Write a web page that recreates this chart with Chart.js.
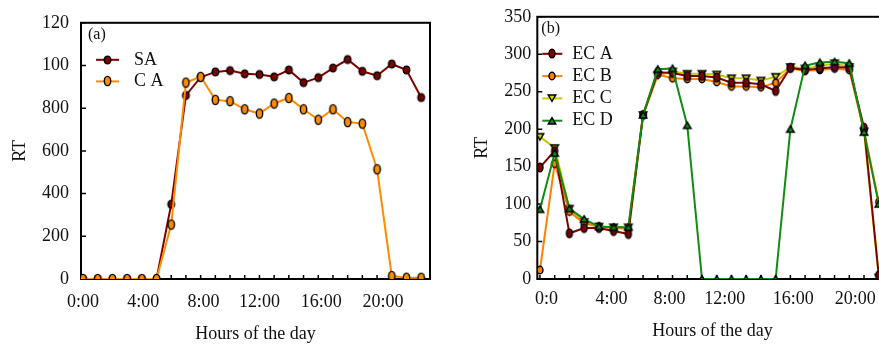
<!DOCTYPE html>
<html>
<head>
<meta charset="utf-8">
<script src="https://cdn.jsdelivr.net/npm/chart.js@4.4.1/dist/chart.umd.min.js"></script>
<style>
    html, body { margin: 0; padding: 0; background: #fff; overflow: hidden; }
    #ChartA { position: absolute; left: 0; top: 0; }
    #ChartB { position: absolute; left: 440px; top: 0; }
</style>
</head>
<body>
<canvas id="ChartA" width="440" height="347"></canvas>
<canvas id="ChartB" width="460" height="347"></canvas>
<script>
const hours = [0, 1, 2, 3, 4, 5, 6, 7, 8, 9, 10, 11, 12, 13, 14, 15, 16, 17, 18, 19, 20, 21, 22, 23];

// panel (a)
const sa_values = [0, 0, 0, 0, 0, 0, 350, 860, 945, 970, 976, 961, 958, 947, 979, 920, 943, 988, 1028, 973, 952, 1007, 979, 850];
const ca_values = [0, 0, 0, 0, 0, 0, 255, 920, 947, 839, 833, 795, 775, 822, 848, 795, 746, 795, 735, 728, 514, 14, 6, 6];
const a_tick_hours = [0, 4.1, 8.2, 12, 16.2, 20.4];
const a_tick_labels = ['0:00', '4:00', '8:00', '12:00', '16:00', '20:00'];
const a_y_labels = ['0', '200', '400', '600', '800', '100', '120'];

// panel (b)
const eca_values = [149, 171, 61, 68, 68, 64, 60, 219, 276, 275, 271, 271, 269, 262, 262, 260, 251, 282, 279, 281, 283, 282, 202, 5];
const ecb_values = [12, 154, 90, 74, 70, 68, 67, 219, 273, 268, 267, 267, 263, 257, 257, 256, 262, 281, 278, 279, 281, 279, 198, 103];
const ecc_values = [190, 175, 94, 76, 70, 69, 69, 219, 272, 277, 274, 274, 273, 268, 268, 265, 270, 283, 281, 284, 288, 283, 197, 2];
const ecd_values = [93, 168, 94, 80, 70, 69, 69, 219, 280, 281, 205, 0, 0, 0, 0, 0, 0, 200, 285, 289, 290, 288, 196, 100];
const b_tick_hours = [0.45, 4.85, 8.8, 12.55, 17.2, 21.4];
const b_tick_labels = ['0:0', '4:00', '8:00', '12:00', '16:00', '20:00'];

const SERIF = "'Liberation Serif', 'Times New Roman', serif";
Chart.defaults.font.family = SERIF;
Chart.defaults.font.size = 18;
Chart.defaults.color = "#111";

function ellipse_marker(fill, rx, ry) {
    const c = document.createElement("canvas");
    c.width = Math.ceil(rx * 2 + 4);
    c.height = Math.ceil(ry * 2 + 4);
    const g = c.getContext("2d");
    g.beginPath();
    g.ellipse(c.width / 2, c.height / 2, rx, ry, 0, 0, Math.PI * 2);
    g.fillStyle = fill;
    g.fill();
    g.lineWidth = 1.4;
    g.strokeStyle = "#000";
    g.stroke();
    return c;
}

function triangle_marker(fill, r, down) {
    const c = document.createElement("canvas");
    const s = Math.ceil(r * 2 + 4);
    c.width = s;
    c.height = s;
    const g = c.getContext("2d");
    const m = s / 2;
    const d = down ? -1 : 1;
    g.beginPath();
    g.moveTo(m - r, m + d * r * 0.8);
    g.lineTo(m + r, m + d * r * 0.8);
    g.lineTo(m, m - d * r * 0.9);
    g.closePath();
    g.fillStyle = fill;
    g.fill();
    g.lineWidth = 1.4;
    g.strokeStyle = "#000";
    g.stroke();
    return c;
}

// box round the plot plus short inside tick marks
const frame_plugin = {
    id: "frame",
    beforeDatasetsDraw(chart) {
        const { ctx, chartArea: a, scales } = chart;
        ctx.save();
        ctx.strokeStyle = "#000";
        ctx.lineWidth = 2;
        ctx.strokeRect(a.left, a.top, a.right - a.left, a.bottom - a.top);
        ctx.lineWidth = 1.5;
        ctx.beginPath();
        hours.forEach(h => {
            const x = scales.x.getPixelForValue(h);
            ctx.moveTo(x, a.bottom);
            ctx.lineTo(x, a.bottom - 4);
        });
        scales.y.ticks.forEach(t => {
            const y = scales.y.getPixelForValue(t.value);
            ctx.moveTo(a.left, y);
            ctx.lineTo(a.left + 5, y);
        });
        ctx.stroke();
        ctx.restore();
    }
};

// legend drawn inside the plot, line with marker like the original
const inside_legend = {
    id: "insideLegend",
    afterDraw(chart, args, opts) {
        const { ctx, chartArea: a } = chart;
        ctx.save();
        ctx.textBaseline = "middle";
        ctx.fillStyle = "#111";
        ctx.font = "16px " + SERIF;
        ctx.fillText(opts.panel, a.left + opts.panelX, a.top + 12);
        ctx.font = "18px " + SERIF;
        chart.data.datasets.forEach((ds, i) => {
            const y = a.top + opts.top + i * opts.gap;
            const x0 = a.left + opts.left;
            ctx.strokeStyle = ds.borderColor;
            ctx.lineWidth = 2;
            ctx.beginPath();
            ctx.moveTo(x0, y);
            ctx.lineTo(x0 + opts.line, y);
            ctx.stroke();
            const m = ds.pointStyle;
            ctx.drawImage(m, Math.round(x0 + opts.line / 2 - m.width / 2), Math.round(y - m.height / 2));
            ctx.fillText(ds.label, x0 + opts.line + opts.textGap, y);
        });
        ctx.restore();
    }
};

function graph_panel_a() {
    const ctx = document.getElementById("ChartA").getContext("2d");

    new Chart(ctx, {
        type: "line",
        data: {
            labels: hours,
            datasets: [
                {
                    label: "SA",
                    data: sa_values,
                    borderColor: "#800000",
                    backgroundColor: "#800000",
                    pointStyle: ellipse_marker("#7a0000", 3.3, 3.9),
                    order: 1
                },
                {
                    label: "C A",
                    data: ca_values,
                    borderColor: "#ff8c00",
                    backgroundColor: "#ff8c00",
                    pointStyle: ellipse_marker("#ff8c00", 3.2, 4.6),
                    order: 0
                }
            ]
        },
        options: {
            responsive: false,
            animation: false,
            events: [],
            layout: { padding: { top: 13, right: 10, left: 0, bottom: 0 } },
            elements: {
                line: { borderWidth: 2, tension: 0 },
                point: { radius: 4 }
            },
            plugins: {
                legend: { display: false },
                tooltip: { enabled: false },
                insideLegend: { panel: "(a)", panelX: 7, left: 15, top: 37, gap: 21.6, line: 23, textGap: 15 }
            },
            scales: {
                x: {
                    type: "linear",
                    min: -0.136,
                    max: 23.6,
                    afterBuildTicks: scale => { scale.ticks = a_tick_hours.map(v => ({ value: v })); },
                    afterFit: scale => { scale.height = 68; },
                    ticks: {
                        autoSkip: false,
                        maxRotation: 0,
                        padding: 12,
                        callback: (value, index) => a_tick_labels[index]
                    },
                    grid: { display: false, drawTicks: false },
                    border: { display: false },
                    title: { display: true, text: "Hours of the day", padding: { top: 0, bottom: 2 } }
                },
                y: {
                    min: 0,
                    max: 1200,
                    afterFit: scale => { scale.width = 81; },
                    ticks: {
                        stepSize: 200,
                        padding: 12,
                        callback: (value, index) => a_y_labels[index]
                    },
                    grid: { display: false, drawTicks: false },
                    border: { display: false },
                    title: { display: true, text: "RT", padding: { top: 9, bottom: 0 } }
                }
            }
        },
        plugins: [frame_plugin, inside_legend]
    });
}

function graph_panel_b() {
    const ctx = document.getElementById("ChartB").getContext("2d");

    new Chart(ctx, {
        type: "line",
        data: {
            labels: hours,
            datasets: [
                {
                    label: "EC A",
                    data: eca_values,
                    borderColor: "#800000",
                    backgroundColor: "#800000",
                    pointStyle: ellipse_marker("#7a0000", 3, 4.4),
                    order: 1
                },
                {
                    label: "EC B",
                    data: ecb_values,
                    borderColor: "#ff8000",
                    backgroundColor: "#ff8000",
                    pointStyle: ellipse_marker("#ff8000", 3, 3.8),
                    order: 2
                },
                {
                    label: "EC C",
                    data: ecc_values,
                    borderColor: "#c8c800",
                    backgroundColor: "#c8c800",
                    pointStyle: triangle_marker("#d4d400", 3.8, true),
                    order: 3
                },
                {
                    label: "EC D",
                    data: ecd_values,
                    borderColor: "#108c10",
                    backgroundColor: "#108c10",
                    pointStyle: triangle_marker("#108c10", 3.8, false),
                    order: 0
                }
            ]
        },
        options: {
            responsive: false,
            animation: false,
            events: [],
            layout: { padding: { top: 15, right: 12.4, left: 0, bottom: 0 } },
            elements: {
                line: { borderWidth: 2, tension: 0 },
                point: { radius: 4 }
            },
            plugins: {
                legend: { display: false },
                tooltip: { enabled: false },
                insideLegend: { panel: "(b)", panelX: 4, left: 5, top: 37, gap: 22.3, line: 20, textGap: 10 }
            },
            scales: {
                x: {
                    type: "linear",
                    min: -0.18,
                    max: 23.6,
                    afterBuildTicks: scale => { scale.ticks = b_tick_hours.map(v => ({ value: v })); },
                    afterFit: scale => { scale.height = 68; },
                    ticks: {
                        autoSkip: false,
                        maxRotation: 0,
                        padding: 9,
                        callback: (value, index) => b_tick_labels[index]
                    },
                    grid: { display: false, drawTicks: false },
                    border: { display: false },
                    title: { display: true, text: "Hours of the day", padding: { top: 0, bottom: 5 } }
                },
                y: {
                    min: 0,
                    max: 350,
                    afterFit: scale => { scale.width = 97.3; },
                    ticks: {
                        stepSize: 50,
                        padding: 6
                    },
                    grid: { display: false, drawTicks: false },
                    border: { display: false },
                    title: { display: true, text: "RT", padding: { top: 31, bottom: 0 } }
                }
            }
        },
        plugins: [frame_plugin, inside_legend]
    });
}

graph_panel_a();
graph_panel_b();
</script>
</body>
</html>
